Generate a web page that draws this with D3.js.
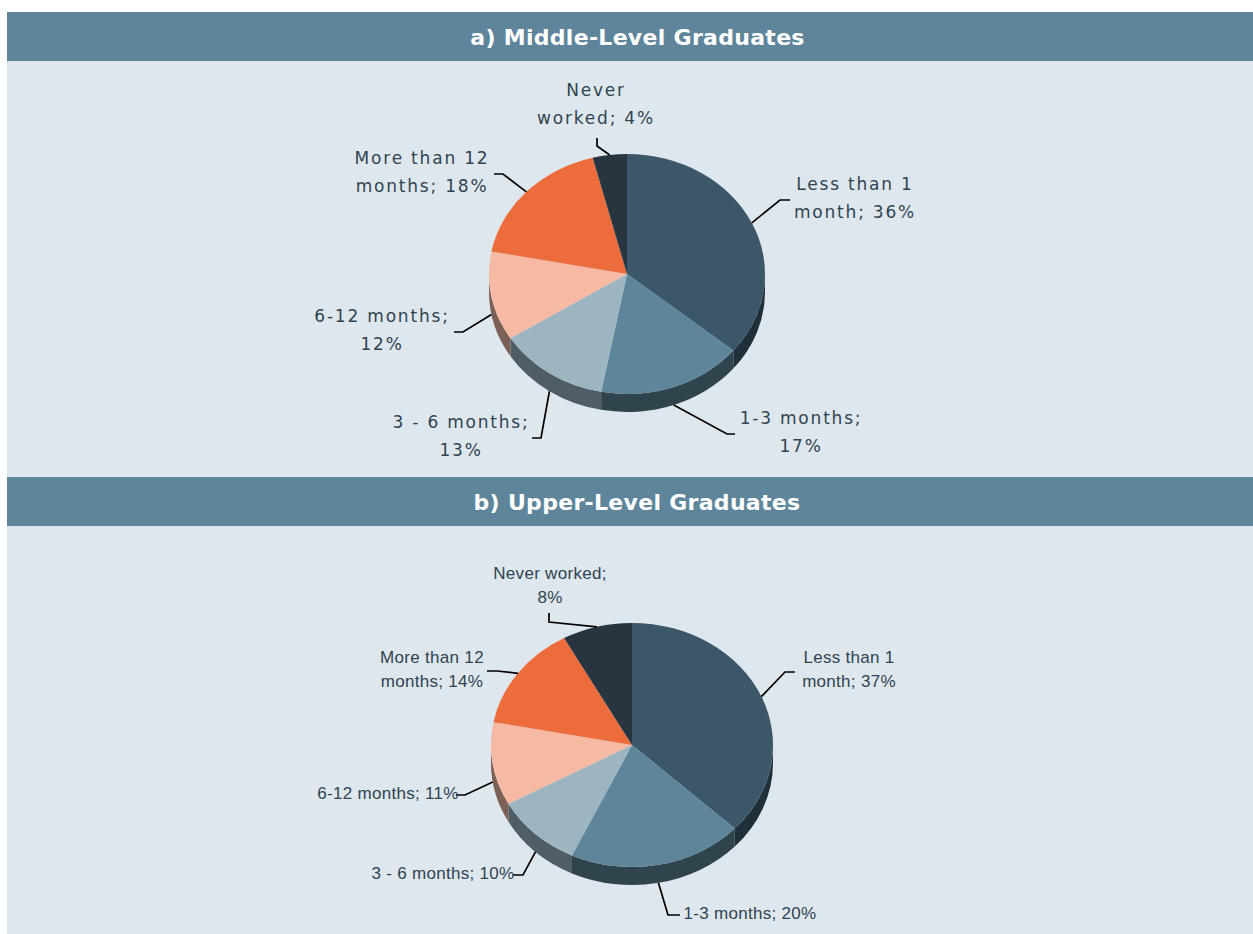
<!DOCTYPE html>
<html>
<head>
<meta charset="utf-8">
<script src="https://cdnjs.cloudflare.com/ajax/libs/d3/7.8.5/d3.min.js"></script>
<style>
body { margin: 0; background: #fff; }
svg { display: block; }
</style>
</head>
<body>
<div id="chart"></div>
<script>
// values
const categories = ["Less than 1 month", "1-3 months", "3 - 6 months", "6-12 months", "More than 12 months", "Never worked"];
const middleValues = [36, 17, 13, 12, 18, 4];
const upperValues = [37, 20, 10, 11, 14, 8];
const middleLabels = [["Less than 1", "month; 36%"], ["1-3 months;", "17%"], ["3 - 6 months;", "13%"], ["6-12 months;", "12%"], ["More than 12", "months; 18%"], ["Never", "worked; 4%"]];
const upperLabels = [["Less than 1", "month; 37%"], ["1-3 months; 20%"], ["3 - 6 months; 10%"], ["6-12 months; 11%"], ["More than 12", "months; 14%"], ["Never worked;", "8%"]];
const topColors = ["#3c566a", "#5e8599", "#9db5c1", "#f6b9a3", "#ed6c3b", "#26353f"];
const sideColors = ["#1f303b", "#30444d", "#4f5e65", "#7d6055", "#7d4a30", "#18232b"];

const W = 1253, H = 934;
const svg = d3.select("#chart").append("svg").attr("width", W).attr("height", H);

// panels
const panels = [
    { title: "a) Middle-Level Graduates", head: 12, body: 61, end: 477, titleX: 637.5, titleY: 45 },
    { title: "b) Upper-Level Graduates", head: 477, body: 526, end: 934, titleX: 637, titleY: 510 }
];
panels.forEach(p => {
    svg.append("rect").attr("x", 7).attr("y", p.body).attr("width", W - 7).attr("height", p.end - p.body).attr("fill", "#dee7ed");
    svg.append("rect").attr("x", 7).attr("y", p.head).attr("width", W - 7).attr("height", p.body - p.head).attr("fill", "#5e8599");
    svg.append("text").attr("x", p.titleX).attr("y", p.titleY).attr("text-anchor", "middle")
        .style("font-family", "'DejaVu Sans'").style("font-weight", "bold").style("font-size", "22px")
        .style("letter-spacing", "0.3px")
        .attr("fill", "#fff").text(p.title);
});

// label layout: text centre, first baseline, leader elbow, leader end
const middleLayout = [
    { x: 855, y: 190, elbow: [780, 200], end: [790, 200] },
    { x: 801, y: 424, elbow: [727, 434], end: [735, 434] },
    { x: 461, y: 428, elbow: [541, 438], end: [532, 438] },
    { x: 382, y: 322, elbow: [463, 332], end: [454, 332] },
    { x: 422, y: 164, elbow: [503, 174], end: [494, 174] },
    { x: 596, y: 96, elbow: [597, 146], end: [597, 138] }
];
const upperLayout = [
    { x: 849, y: 663, elbow: [785, 672], end: [795, 672] },
    { x: 750, y: 919, elbow: [668, 915], end: [680, 915] },
    { x: 443, y: 879, elbow: [523, 875], end: [513, 875] },
    { x: 388, y: 799, elbow: [465, 795], end: [456, 795] },
    { x: 432, y: 663, elbow: [497, 671], end: [487, 671] },
    { x: 550, y: 579, elbow: [549, 622], end: [549, 613] }
];

function drawPie(values, labels, layout, opt) {
    const { cx, cy, rx, ry, depth } = opt;
    const g = svg.append("g");
    const arcs = d3.pie().sort(null)(values);
    const px = a => cx + rx * Math.sin(a);
    const py = a => cy - ry * Math.cos(a);

    // rim, only the half that faces the viewer
    arcs.forEach((d, i) => {
        const a0 = Math.max(d.startAngle, Math.PI / 2);
        const a1 = Math.min(d.endAngle, 3 * Math.PI / 2);
        if (a1 <= a0) return;
        const flag = `A${rx},${ry} 0 0`;
        g.append("path")
            .attr("d", `M${px(a0)},${py(a0)} ${flag} 1 ${px(a1)},${py(a1)} L${px(a1)},${py(a1) + depth} ${flag} 0 ${px(a0)},${py(a0) + depth} Z`)
            .attr("fill", sideColors[i]);
    });

    // top face, a flattened d3 arc
    const arc = d3.arc().innerRadius(0).outerRadius(rx);
    g.append("g").attr("transform", `translate(${cx},${cy}) scale(1,${ry / rx})`)
        .selectAll("path").data(arcs).join("path")
        .attr("d", arc)
        .attr("fill", (d, i) => topColors[i]);

    // leaders start on the rim at the middle of each slice
    const line = d3.line();
    arcs.forEach((d, i) => {
        const mid = (d.startAngle + d.endAngle) / 2;
        const lower = Math.cos(mid) < 0 ? depth : 0;
        const start = [px(mid), py(mid) + lower];
        svg.append("path").attr("d", line([start, layout[i].elbow, layout[i].end]))
            .attr("fill", "none").attr("stroke", "#000").attr("stroke-width", 1.7);
    });

    labels.forEach((lines, i) => {
        lines.forEach((t, k) => {
            svg.append("text").attr("x", layout[i].x).attr("y", layout[i].y + k * opt.lineH)
                .attr("text-anchor", "middle").attr("fill", "#2f4451")
                .style("font-family", opt.font).style("font-size", opt.size)
                .style("letter-spacing", opt.spacing).text(t);
        });
    });
}

drawPie(middleValues, middleLabels, middleLayout, { cx: 627, cy: 274, rx: 138, ry: 120, depth: 18, lineH: 28, font: "'DejaVu Sans'", size: "17px", spacing: "1.8px" });
drawPie(upperValues, upperLabels, upperLayout, { cx: 632, cy: 745, rx: 141, ry: 122, depth: 18, lineH: 24, font: "'Liberation Sans'", size: "17px", spacing: "0.3px" });
</script>
</body>
</html>
